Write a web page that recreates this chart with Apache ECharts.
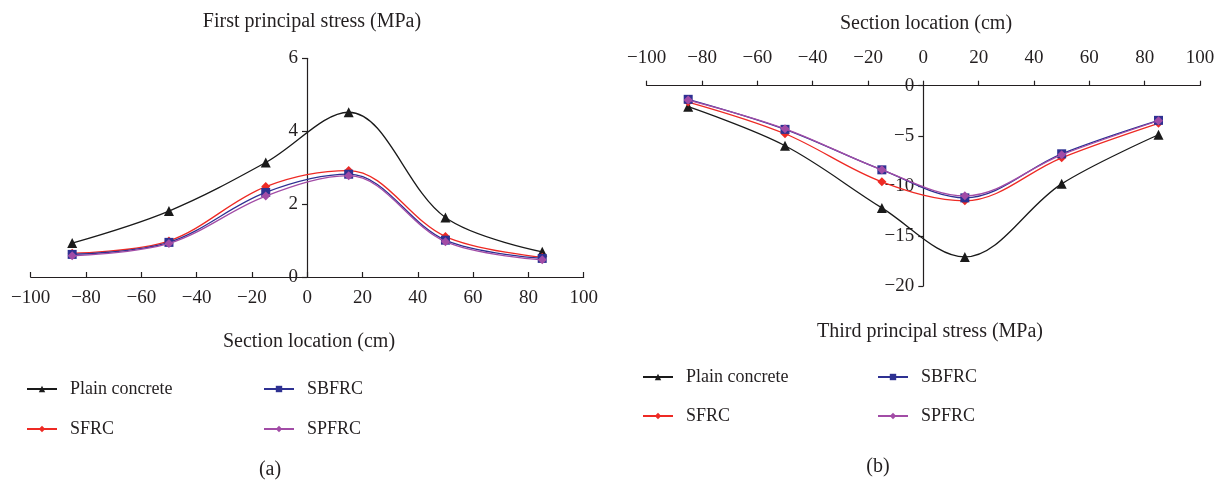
<!DOCTYPE html>
<html><head><meta charset="utf-8">
<script src="https://cdn.jsdelivr.net/npm/echarts@6/dist/echarts.min.js"></script>
<style>html,body{margin:0;padding:0;background:#fff}#c{width:1226px;height:480px}</style>
</head><body><div id="c"></div>
<script>
const sections = [-85, -50, -15, 15, 50, 85];
const names = ['Plain concrete', 'SFRC', 'SBFRC', 'SPFRC'];
// (a) First principal stress (MPa)
const firstPlain = [0.93, 1.81, 3.14, 4.52, 1.63, 0.69];
const firstSFRC  = [0.65, 0.99, 2.48, 2.92, 1.11, 0.54];
const firstSBFRC = [0.62, 0.95, 2.32, 2.82, 1.01, 0.51];
const firstSPFRC = [0.58, 0.92, 2.22, 2.78, 0.97, 0.47];
// (b) Third principal stress (MPa)
const thirdPlain = [-2.1, -6.0, -12.2, -17.1, -9.8, -4.9];
const thirdSFRC  = [-1.63, -4.8, -9.6, -11.5, -7.2, -3.76];
const thirdSBFRC = [-1.36, -4.36, -8.4, -11.2, -6.8, -3.46];
const thirdSPFRC = [-1.43, -4.3, -8.4, -11.0, -6.9, -3.5];

const colors = ['#1a1a1a', '#ee2a24', '#2e3192', '#a24ca6'];
const symbols = ['triangle', 'diamond', 'rect', 'diamond'];
const symSizes = [10, 9, 9, 9];
const FONT = 'Liberation Serif';
const TXT = '#231f20';
const AX = 19;

const fmt = v => (v < 0 ? '\u2212' + Math.abs(v) : String(v));
const pairs = ys => sections.map((x, i) => [x, ys[i]]);

function axis(extra, tickInside, labelMargin) {
  return Object.assign({
    type: 'value',
    axisLine: { show: true, onZero: false, lineStyle: { color: TXT, width: 1.2 } },
    axisTick: { show: true, inside: !!tickInside, length: 5, lineStyle: { color: TXT, width: 1.2 } },
    axisLabel: { color: TXT, fontFamily: FONT, fontSize: AX, formatter: fmt, margin: labelMargin },
    splitLine: { show: false }
  }, extra);
}

function mkSeries(idx, name, ys) {
  const i = names.indexOf(name);
  return {
    name, type: 'line', xAxisIndex: idx, yAxisIndex: idx,
    data: pairs(ys), smooth: 0.35,
    symbol: symbols[i], symbolSize: symSizes[i],
    lineStyle: { color: colors[i], width: 1.3 },
    itemStyle: { color: colors[i] },
    z: 2 + i
  };
}

function mkLegend(name, left, top) {
  return {
    data: [name], left, top, padding: 0,
    itemWidth: 30, itemHeight: 8, selectedMode: false,
    textStyle: { color: TXT, fontFamily: FONT, fontSize: 18, padding: [0, 0, 0, 8] }
  };
}

const titleStyle = { color: TXT, fontFamily: FONT, fontSize: 20, fontWeight: 'normal' };

const option = {
  animation: false,
  backgroundColor: '#fff',
  title: [
    { text: 'First principal stress (MPa)', left: 307, top: 7, textAlign: 'center', textStyle: titleStyle },
    { text: 'Section location (cm)', left: 304, top: 327, textAlign: 'center', textStyle: titleStyle },
    { text: '(a)', left: 265, top: 455, textAlign: 'center', textStyle: titleStyle },
    { text: 'Section location (cm)', left: 921, top: 9, textAlign: 'center', textStyle: titleStyle },
    { text: 'Third principal stress (MPa)', left: 925, top: 317, textAlign: 'center', textStyle: titleStyle },
    { text: '(b)', left: 873, top: 452, textAlign: 'center', textStyle: titleStyle }
  ],
  legend: [
    mkLegend('Plain concrete', 26, 380), mkLegend('SBFRC', 263, 380),
    mkLegend('SFRC', 26, 420), mkLegend('SPFRC', 263, 420),
    mkLegend('Plain concrete', 642, 368), mkLegend('SBFRC', 877, 368),
    mkLegend('SFRC', 642, 407), mkLegend('SPFRC', 877, 407)
  ],
  grid: [
    { left: 30.7, width: 553, top: 58.3, height: 218.7 },
    { left: 646.7, width: 553.3, top: 85.7, height: 200.3 }
  ],
  xAxis: [
    axis({ gridIndex: 0, min: -100, max: 100, interval: 20, position: 'bottom' }, true, 12),
    axis({ gridIndex: 1, min: -100, max: 100, interval: 20, position: 'top' }, false, 18)
  ],
  yAxis: [
    axis({ gridIndex: 0, min: 0, max: 6, interval: 2, position: 'left', offset: -276.3 }, false, 9),
    axis({ gridIndex: 1, min: -20, max: 0, interval: 5, position: 'left', offset: -276.6 }, false, 9)
  ],
  series: [
    mkSeries(0, 'Plain concrete', firstPlain),
    mkSeries(0, 'SFRC', firstSFRC),
    mkSeries(0, 'SBFRC', firstSBFRC),
    mkSeries(0, 'SPFRC', firstSPFRC),
    mkSeries(1, 'Plain concrete', thirdPlain),
    mkSeries(1, 'SFRC', thirdSFRC),
    mkSeries(1, 'SBFRC', thirdSBFRC),
    mkSeries(1, 'SPFRC', thirdSPFRC)
  ]
};
const chart = echarts.init(document.getElementById('c'), null, { renderer: 'canvas' });
chart.setOption(option);
</script></body></html>
